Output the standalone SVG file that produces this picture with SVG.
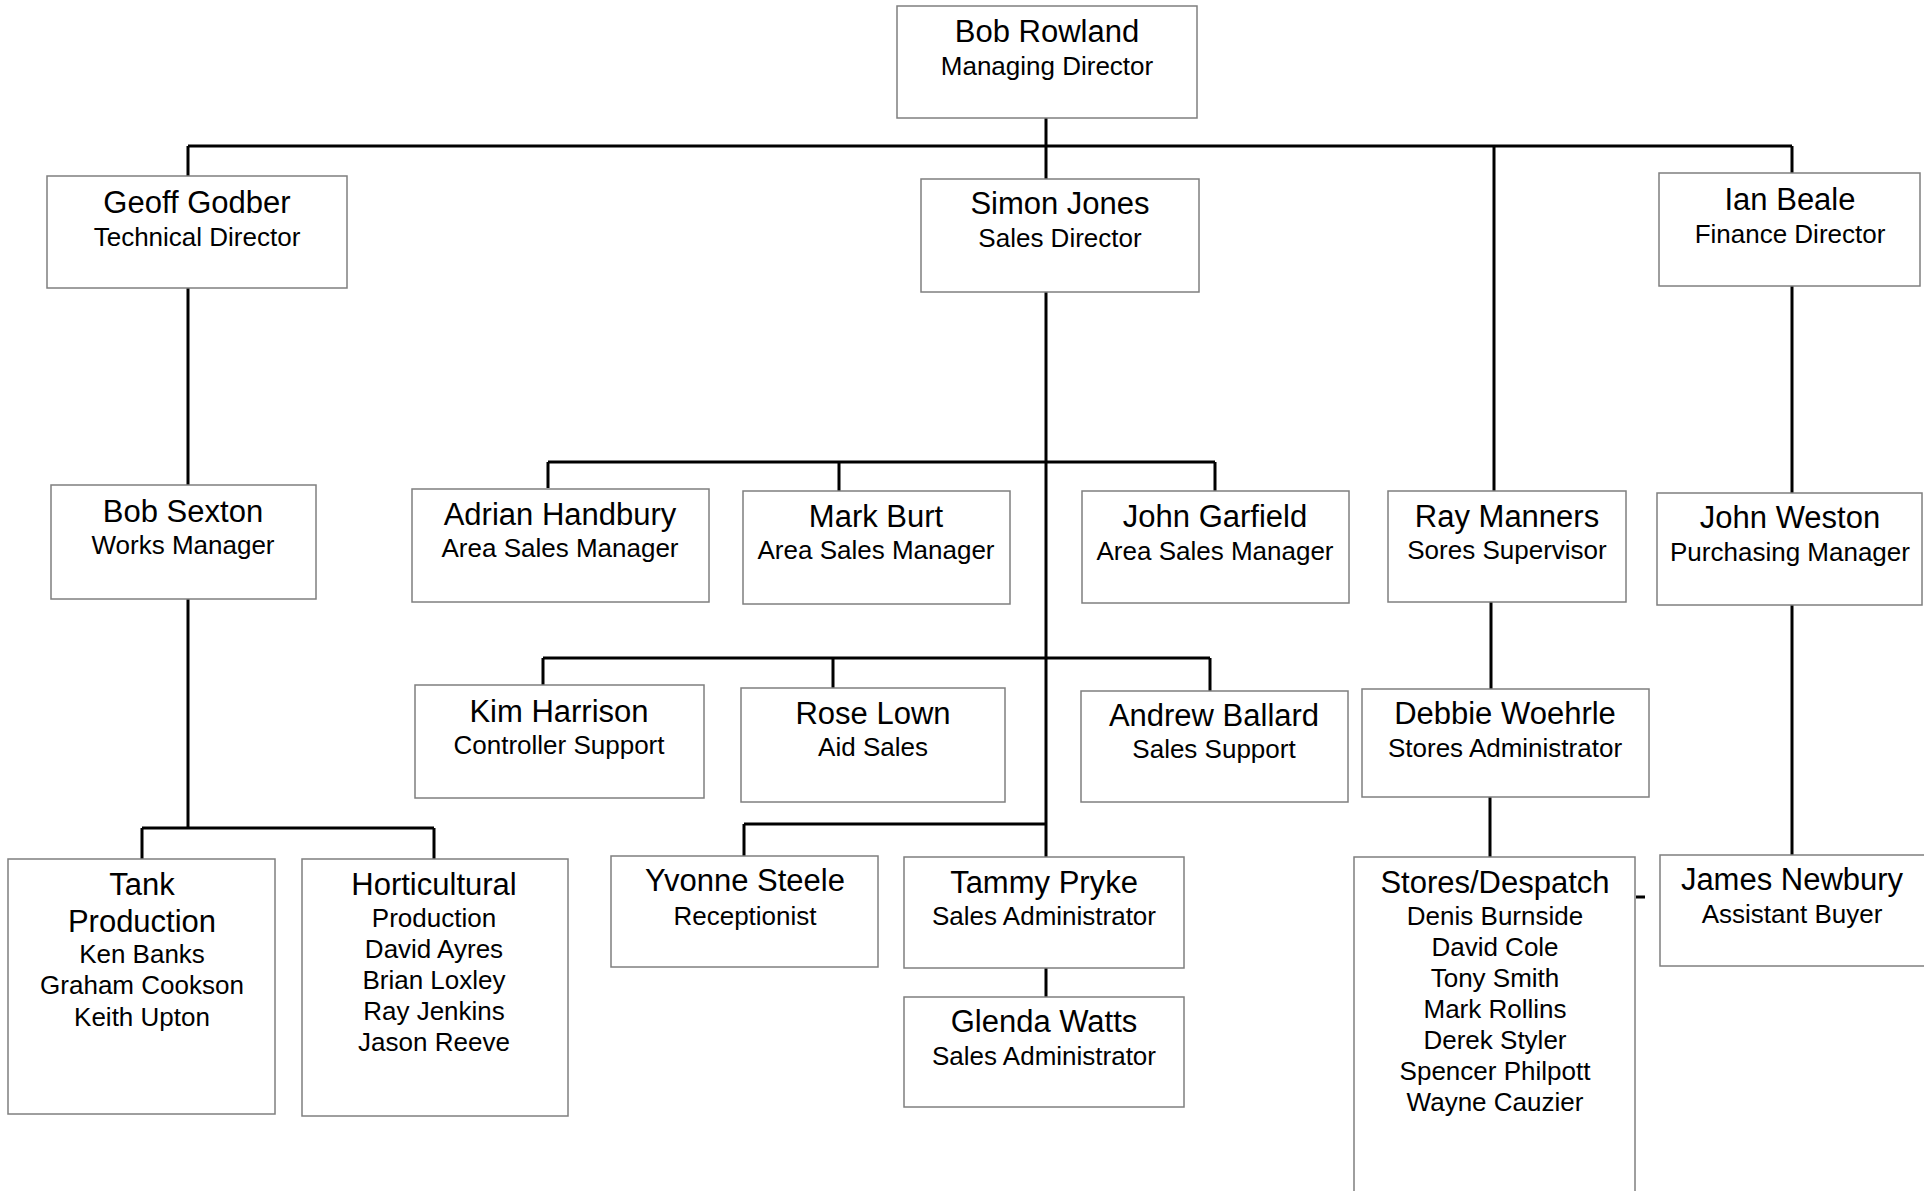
<svg xmlns="http://www.w3.org/2000/svg" width="1924" height="1191" viewBox="0 0 1924 1191">
<style>
.box{fill:#fff;stroke:#7f7f7f;stroke-width:1.5}
.c{fill:none;stroke:#000;stroke-width:3}
text{font-family:"Liberation Sans",Arial,sans-serif;fill:#000;text-anchor:middle}
.n{font-size:31px}
.t{font-size:26px}
</style>
<rect width="1924" height="1191" fill="#fff"/>
<g id="connectors">
<path class="c" d="M1046 118V146M188 146H1792M188 146V176M1046 146V179M1494 146V491M1792 146V173"/>
<path class="c" d="M188 288V485M188 599V828M142 828H434M142 828V859M434 828V859"/>
<path class="c" d="M1046 292V857M548 462H1215M548 462V488M839 462V491M1215 462V491"/>
<path class="c" d="M543 658H1210M543 658V685M833 658V688M1210 658V691"/>
<path class="c" d="M744 824H1046M744 824V856M1046 968V997"/>
<path class="c" d="M1491 602V689M1490 797V857M1792 286V493M1792 605V855M1636 897H1645"/>
</g>
<g id="bob-rowland"><rect class="box" x="897" y="6" width="300" height="112"/><text class="n" x="1047" y="42">Bob Rowland</text><text class="t" x="1047" y="75">Managing Director</text></g>
<g id="geoff-godber"><rect class="box" x="47" y="176" width="300" height="112"/><text class="n" x="197" y="213">Geoff Godber</text><text class="t" x="197" y="246">Technical Director</text></g>
<g id="simon-jones"><rect class="box" x="921" y="179" width="278" height="113"/><text class="n" x="1060" y="214">Simon Jones</text><text class="t" x="1060" y="247">Sales Director</text></g>
<g id="ian-beale"><rect class="box" x="1659" y="173" width="261" height="113"/><text class="n" x="1790" y="210">Ian Beale</text><text class="t" x="1790" y="243">Finance Director</text></g>
<g id="bob-sexton"><rect class="box" x="51" y="485" width="265" height="114"/><text class="n" x="183" y="522">Bob Sexton</text><text class="t" x="183" y="554">Works Manager</text></g>
<g id="adrian-handbury"><rect class="box" x="412" y="489" width="297" height="113"/><text class="n" x="560" y="525">Adrian Handbury</text><text class="t" x="560" y="557">Area Sales Manager</text></g>
<g id="mark-burt"><rect class="box" x="743" y="491" width="267" height="113"/><text class="n" x="876" y="527">Mark Burt</text><text class="t" x="876" y="559">Area Sales Manager</text></g>
<g id="john-garfield"><rect class="box" x="1082" y="491" width="267" height="112"/><text class="n" x="1215" y="527">John Garfield</text><text class="t" x="1215" y="560">Area Sales Manager</text></g>
<g id="ray-manners"><rect class="box" x="1388" y="491" width="238" height="111"/><text class="n" x="1507" y="527">Ray Manners</text><text class="t" x="1507" y="559">Sores Supervisor</text></g>
<g id="john-weston"><rect class="box" x="1657" y="493" width="265" height="112"/><text class="n" x="1790" y="528">John Weston</text><text class="t" x="1790" y="561">Purchasing Manager</text></g>
<g id="kim-harrison"><rect class="box" x="415" y="685" width="289" height="113"/><text class="n" x="559" y="722">Kim Harrison</text><text class="t" x="559" y="754">Controller Support</text></g>
<g id="rose-lown"><rect class="box" x="741" y="688" width="264" height="114"/><text class="n" x="873" y="724">Rose Lown</text><text class="t" x="873" y="756">Aid Sales</text></g>
<g id="andrew-ballard"><rect class="box" x="1081" y="691" width="267" height="111"/><text class="n" x="1214" y="726">Andrew Ballard</text><text class="t" x="1214" y="758">Sales Support</text></g>
<g id="debbie-woehrle"><rect class="box" x="1362" y="689" width="287" height="108"/><text class="n" x="1505" y="724">Debbie Woehrle</text><text class="t" x="1505" y="757">Stores Administrator</text></g>
<g id="tank-production"><rect class="box" x="8" y="859" width="267" height="255"/><text class="n" x="142" y="895">Tank</text><text class="n" x="142" y="932">Production</text><text class="t" x="142" y="963">Ken Banks</text><text class="t" x="142" y="994">Graham Cookson</text><text class="t" x="142" y="1026">Keith Upton</text></g>
<g id="horticultural-production"><rect class="box" x="302" y="859" width="266" height="257"/><text class="n" x="434" y="895">Horticultural</text><text class="t" x="434" y="927">Production</text><text class="t" x="434" y="958">David Ayres</text><text class="t" x="434" y="989">Brian Loxley</text><text class="t" x="434" y="1020">Ray Jenkins</text><text class="t" x="434" y="1051">Jason Reeve</text></g>
<g id="yvonne-steele"><rect class="box" x="611" y="856" width="267" height="111"/><text class="n" x="745" y="891">Yvonne Steele</text><text class="t" x="745" y="925">Receptionist</text></g>
<g id="tammy-pryke"><rect class="box" x="904" y="857" width="280" height="111"/><text class="n" x="1044" y="893">Tammy Pryke</text><text class="t" x="1044" y="925">Sales Administrator</text></g>
<g id="glenda-watts"><rect class="box" x="904" y="997" width="280" height="110"/><text class="n" x="1044" y="1032">Glenda Watts</text><text class="t" x="1044" y="1065">Sales Administrator</text></g>
<g id="stores-despatch"><rect class="box" x="1354" y="857" width="281" height="345"/><text class="n" x="1495" y="893">Stores/Despatch</text><text class="t" x="1495" y="925">Denis Burnside</text><text class="t" x="1495" y="956">David Cole</text><text class="t" x="1495" y="987">Tony Smith</text><text class="t" x="1495" y="1018">Mark Rollins</text><text class="t" x="1495" y="1049">Derek Styler</text><text class="t" x="1495" y="1080">Spencer Philpott</text><text class="t" x="1495" y="1111">Wayne Cauzier</text></g>
<g id="james-newbury"><rect class="box" x="1660" y="855" width="270" height="111"/><text class="n" x="1792" y="890">James Newbury</text><text class="t" x="1792" y="923">Assistant Buyer</text></g>
</svg>
